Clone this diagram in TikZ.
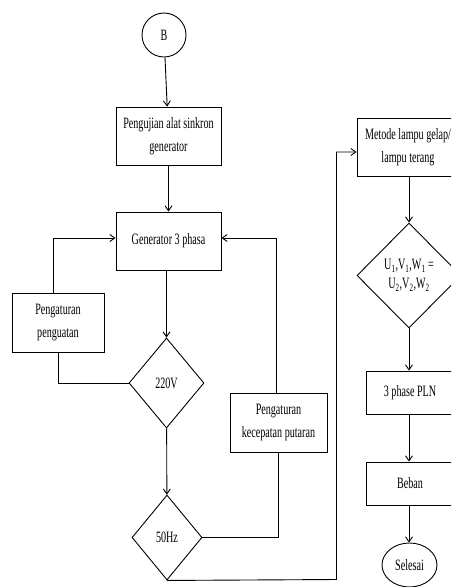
\documentclass[tikz,border=0pt]{standalone}
\usepackage{fontspec}
\setmainfont[FakeStretch=0.64]{Liberation Serif}
\usetikzlibrary{arrows.meta,shapes.geometric}
\tikzset{
  every node/.style={font=\fontsize{15.8}{23}\selectfont, inner sep=0pt},
  box/.style={draw, rectangle, align=center, line width=0.9pt},
  dec/.style={draw, diamond, align=center, line width=0.9pt, inner sep=0pt},
  conn/.style={line width=0.9pt},
  arr/.style={conn, -{Straight Barb[length=5pt,width=7pt]}}
}
\begin{document}
\begin{tikzpicture}[x=1pt,y=-1pt]
\useasboundingbox (0,0) rectangle (451,587);
\clip (0,0) rectangle (451,587);
% left column
\node[draw, circle, minimum size=44pt, line width=0.9pt] (b) at (164,35) {B};
\node[box, minimum width=105pt, minimum height=58pt] (uji) at (168.5,136) {Pengujian alat sinkron\\generator};
\node[box, minimum width=105pt, minimum height=58pt] (gen) at (168.5,241) {Generator 3 phasa};
\node[box, minimum width=92pt, minimum height=59pt] (peng) at (58,322.5) {Pengaturan\\penguatan};
\node[dec, minimum width=75pt, minimum height=90pt] (d220) at (166.5,383) {220V};
\node[dec, minimum width=70pt, minimum height=85pt] (d50) at (167,537.5) {50Hz};
\node[box, minimum width=97pt, minimum height=59pt] (kec) at (278.5,422.5) {Pengaturan\\kecepatan putaran};
% right column
\node[box, minimum width=102pt, minimum height=58pt] (met) at (408,147) {Metode lampu gelap/\\lampu terang};
\node[dec, minimum width=104pt, minimum height=105pt, font=\fontsize{15.8}{19}\selectfont] (du) at (409,275.5) {U\textsubscript{1},V\textsubscript{1},W\textsubscript{1} =\\U\textsubscript{2},V\textsubscript{2},W\textsubscript{2}};
\node[box, minimum width=88pt, minimum height=43pt] (pln) at (410,392.5) {3 phase PLN};
\node[box, minimum width=88pt, minimum height=43pt] (beban) at (410,483.5) {Beban};
\node[draw, ellipse, minimum width=55pt, minimum height=44pt, line width=0.9pt] (sel) at (409.5,565) {Selesai};
% connectors
\draw[arr] (b) -- (uji);
\draw[arr] (uji) -- (gen);
\draw[arr] (gen.south -| d220.north) -- (d220.north);
\draw[arr] (d220) -- (d50);
\draw[conn] (d220.west) -| (peng.south);
\draw[arr] ([xshift=-5pt]peng.north) |- ([yshift=3pt]gen.west);
\draw[conn, line width=1.6pt] (d50.east) -| (kec.south);
\draw[arr] ([xshift=-2pt]kec.north) |- ([yshift=3pt]gen.east);
\coordinate (c1) at (336.5,579.5);
\draw[arr] (d50.south) -- (c1) |- ([yshift=-5pt]met.west);
\draw[arr] (met.south -| du.north) -- (du.north);
\draw[arr] (du.south) -- (du.south |- pln.north);
\draw[arr] (pln.south -| du.south) -- (du.south |- beban.north);
\draw[arr] (beban.south -| du.south) -- (du.south |- sel.north);
\end{tikzpicture}
\end{document}
